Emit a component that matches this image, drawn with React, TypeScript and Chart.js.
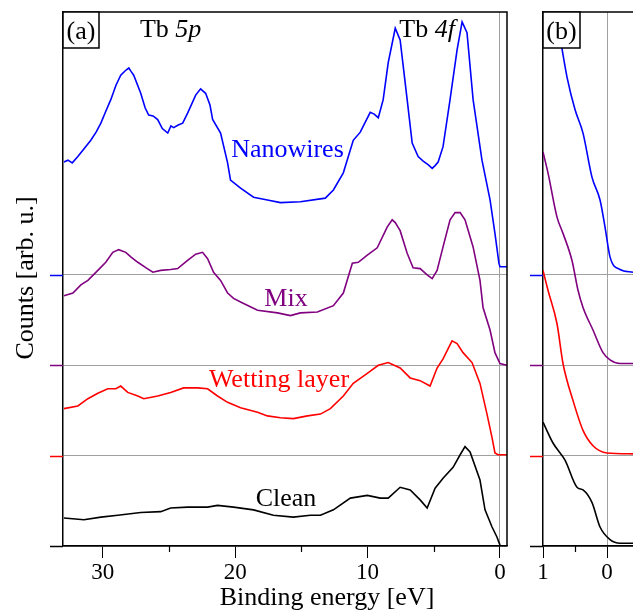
import React, { useEffect, useRef } from 'react';
import { Chart, registerables } from 'chart.js';

Chart.register(...registerables);

const FONT = '"Liberation Serif", "Times New Roman", Times, serif';
const GRID = '#a0a0a0';

// ---- series meta ----
const seriesNames = ['Nanowires', 'Mix', 'Wetting layer', 'Clean'];
const seriesColors = ['#0000ff', '#800080', '#ff0000', '#000000'];
const seriesOffsets = [300, 200, 100, 0];

// ---- panel (a): binding energy [eV] and counts (above own baseline) ----
const nanowiresE = [32.93, 32.63, 32.3, 31.88, 31.5, 30.9, 30.5, 30.14, 29.8, 29.39, 29.0, 28.64, 28.3, 28.03, 27.85, 27.66, 27.13, 26.8, 26.53, 26.2, 25.85, 25.5, 25.09, 24.85, 24.64, 24.3, 23.96, 23.59, 22.98, 22.61, 22.23, 21.9, 21.7, 21.1, 20.57, 20.35, 19.59, 18.61, 17.56, 16.58, 15.07, 13.19, 12.58, 11.83, 11.08, 10.55, 9.8, 9.5, 9.19, 8.82, 8.44, 7.91, 7.54, 7.01, 6.63, 6.18, 5.8, 5.43, 5.12, 4.9, 4.67, 4.3, 3.77, 3.24, 2.86, 2.49, 2.03, 1.36, 0.75, 0.38, 0.08, 0, -0.53];
const nanowiresI = [125, 127, 124, 131, 138, 149, 158, 168, 180, 194, 210, 221, 226, 229, 225, 221, 201, 185, 177, 176, 172, 162, 157, 165, 163, 166, 168, 179, 199, 206, 201, 188, 172, 157, 124, 105, 96, 86, 83, 80, 81, 85, 94, 113, 149, 158, 180, 178, 174, 194, 235, 273, 260, 194, 146, 131, 126, 122, 118, 121, 125, 142, 194, 249, 280, 268, 194, 127, 83, 46, 13, 9, 9];

const mixE = [32.93, 32.25, 31.65, 31.12, 30.37, 29.77, 29.24, 28.79, 28.26, 27.88, 27.35, 26.75, 26.22, 25.62, 24.87, 24.34, 23.59, 22.98, 22.46, 22.08, 21.63, 21.1, 20.57, 20.12, 19.59, 18.31, 16.8, 15.83, 15.07, 13.79, 12.58, 11.83, 11.15, 10.7, 10.02, 9.27, 8.52, 8.14, 7.91, 7.54, 7.01, 6.56, 6.03, 5.5, 5.12, 4.75, 4.3, 3.77, 3.39, 3.01, 2.64, 2.03, 1.51, 1.28, 0.75, 0.38, 0, -0.53];
const mixI = [77, 80, 89, 94, 105, 114, 125, 128, 125, 120, 114, 108, 103, 105, 106, 107, 116, 123, 125, 118, 103, 94, 80, 74, 70, 61, 58, 55, 58, 59, 66, 80, 113, 114, 122, 130, 153, 161, 158, 149, 124, 108, 107, 100, 96, 105, 131, 161, 169, 169, 161, 131, 94, 64, 39, 14, 2, 0];

const wettingE = [32.93, 31.88, 31.12, 30.37, 29.62, 29.01, 28.64, 28.11, 27.35, 26.9, 25.85, 24.87, 23.89, 22.83, 22.08, 21.33, 20.57, 19.59, 18.31, 17.56, 16.58, 15.6, 14.54, 13.56, 12.81, 11.83, 11.08, 10.02, 9.19, 8.44, 7.54, 6.78, 6.03, 5.28, 4.75, 4.3, 3.62, 3.24, 2.79, 2.11, 1.51, 0.98, 0.6, 0.38, 0.15, -0.53];
const wettingI = [52, 55, 63, 69, 74, 74, 77, 70, 66, 63, 66, 70, 75, 75, 74, 66, 59, 53, 48, 44, 42, 41, 44, 46, 52, 66, 80, 91, 100, 103, 97, 86, 83, 77, 97, 107, 127, 124, 114, 103, 80, 46, 20, 3, 1, 1];

const cleanE = [32.93, 31.42, 30.14, 28.86, 27.13, 25.62, 24.87, 23.59, 22.08, 21.33, 20.12, 18.61, 17.11, 15.6, 14.32, 13.56, 12.58, 11.3, 10.02, 9.04, 8.44, 7.54, 6.78, 6.03, 5.5, 4.9, 4.3, 3.54, 3.01, 2.64, 2.26, 1.51, 1.13, 0.6, 0.23, 0];
const cleanI = [31, 29, 32, 34, 37, 38, 42, 43, 43, 45, 43, 40, 34, 32, 34, 34, 40, 53, 56, 53, 53, 65, 62, 51, 42, 64, 75, 87, 101, 110, 104, 73, 40, 21, 10, 1];

// ---- panel (b): near Fermi level, magnified ----
const nanowiresZoomE = [0.82, 0.7, 0.625, 0.5, 0.375, 0.234, 0.109, 0.031, -0.047, -0.203, -0.406];
const nanowiresZoomI = [300, 249, 219, 183, 157, 108, 83, 53, 20, 6, 3];
const mixZoomE = [1.0, 0.922, 0.781, 0.6875, 0.547, 0.453, 0.375, 0.219, 0.0625, -0.047, -0.203, -0.406];
const mixZoomI = [236, 213, 164, 146, 116, 83, 64, 39, 14, 6, 2, 2];
const wettingZoomE = [1.0, 0.922, 0.781, 0.6875, 0.531, 0.375, 0.219, 0, -0.406];
const wettingZoomI = [205, 183, 146, 102, 61, 28, 11, 3, 2];
const cleanZoomE = [1.0, 0.844, 0.656, 0.469, 0.375, 0.234, 0.109, -0.047, -0.203, -0.406];
const cleanZoomI = [137, 114, 95, 65, 62, 48, 21, 7, 3, 3];

// ---- axes ----
const xRangeA = [-0.53, 33];
const xRangeB = [-0.406, 1];
const yRange = [0, 591];
const xMajorA = [0, 10, 20, 30];
const xMinorA = [5, 15, 25];
const xMajorB = [0, 1];
const xMinorB = [0.5];
const yTicks = [0, 100, 200, 300];
const yTickColors = ['#000000', '#ff0000', '#800080', '#0000ff'];

// ---- annotations (data coords) ----
const curveLabelE = [16.05, 16.16, 16.69, 16.16];
const curveLabelY = [430, 266, 176, 44];
const peakLabels: [string, string][] = [['Tb ', '5p'], ['Tb ', '4f']];
const peakLabelE = [24.87, 5.5];
const peakLabelY = 563;

const panelA = [[nanowiresE, nanowiresI], [mixE, mixI], [wettingE, wettingI], [cleanE, cleanI]];
const panelB = [[nanowiresZoomE, nanowiresZoomI], [mixZoomE, mixZoomI], [wettingZoomE, wettingZoomI], [cleanZoomE, cleanZoomI]];

function buildDatasets(panel: number[][][], smooth: boolean) {
  return panel.map(([es, is], k) => ({
    label: seriesNames[k],
    data: es.map((e, i) => ({ x: e, y: is[i] + seriesOffsets[k] })),
    borderColor: seriesColors[k],
    backgroundColor: seriesColors[k],
    borderWidth: 1.6,
    pointRadius: 0,
    fill: false,
    tension: smooth ? 0.4 : 0,
    cubicInterpolationMode: smooth ? 'monotone' : 'default',
  }));
}

function drawMixed(ctx: CanvasRenderingContext2D, parts: [string, boolean][], cx: number, by: number, size: number) {
  const widths: number[] = [];
  let total = 0;
  parts.forEach(([t, it]) => {
    ctx.font = `${it ? 'italic ' : ''}${size}px ${FONT}`;
    const w = ctx.measureText(t).width;
    widths.push(w);
    total += w;
  });
  let x = cx - total / 2;
  ctx.textAlign = 'left';
  ctx.textBaseline = 'alphabetic';
  parts.forEach(([t, it], i) => {
    ctx.font = `${it ? 'italic ' : ''}${size}px ${FONT}`;
    ctx.fillText(t, x, by);
    x += widths[i];
  });
}

function drawMinorTicks(chart: any, values: number[]) {
  const ctx = chart.ctx;
  const xs = chart.scales.x;
  const bottom = chart.chartArea.bottom;
  ctx.save();
  ctx.strokeStyle = '#000';
  ctx.lineWidth = 1.2;
  values.forEach((v) => {
    const px = Math.round(xs.getPixelForValue(v)) + 0.5;
    ctx.beginPath();
    ctx.moveTo(px, bottom);
    ctx.lineTo(px, bottom + 6);
    ctx.stroke();
  });
  ctx.restore();
}

function drawYTicks(chart: any) {
  const ctx = chart.ctx as CanvasRenderingContext2D;
  const ys = chart.scales.y;
  const left = chart.chartArea.left;
  ctx.save();
  ctx.lineWidth = 1.5;
  yTicks.forEach((v, i) => {
    const py = Math.round(ys.getPixelForValue(v)) + 0.5;
    ctx.strokeStyle = yTickColors[i];
    ctx.beginPath();
    ctx.moveTo(left - 13, py);
    ctx.lineTo(left, py);
    ctx.stroke();
  });
  ctx.restore();
}

function drawBox(ctx: CanvasRenderingContext2D, left: number, top: number, w: number, text: string) {
  ctx.save();
  ctx.fillStyle = '#fff';
  ctx.fillRect(left, top, w, 36);
  ctx.strokeStyle = '#000';
  ctx.lineWidth = 1.5;
  ctx.strokeRect(left, top, w, 36);
  ctx.fillStyle = '#000';
  ctx.font = `26px ${FONT}`;
  ctx.textAlign = 'center';
  ctx.textBaseline = 'alphabetic';
  ctx.fillText(text, left + w / 2, top + 27);
  ctx.restore();
}

const panelAPlugin = {
  id: 'panelADecor',
  afterDraw(chart: any) {
    const ctx = chart.ctx as CanvasRenderingContext2D;
    const { left, right, top, bottom } = chart.chartArea;
    const xs = chart.scales.x;
    const ys = chart.scales.y;
    ctx.save();
    ctx.strokeStyle = '#000';
    ctx.lineWidth = 1.5;
    ctx.beginPath();
    ctx.moveTo(left, top);
    ctx.lineTo(right, top);
    ctx.lineTo(right, bottom);
    ctx.stroke();
    ctx.restore();
    drawMinorTicks(chart, xMinorA);
    drawYTicks(chart);

    ctx.save();
    ctx.textAlign = 'center';
    ctx.textBaseline = 'alphabetic';
    seriesNames.forEach((name, k) => {
      ctx.fillStyle = seriesColors[k];
      ctx.font = `26px ${FONT}`;
      ctx.fillText(name, xs.getPixelForValue(curveLabelE[k]), ys.getPixelForValue(curveLabelY[k]));
    });
    ctx.fillStyle = '#000';
    peakLabels.forEach((p, i) => {
      drawMixed(ctx, [[p[0], false], [p[1], true]], xs.getPixelForValue(peakLabelE[i]), ys.getPixelForValue(peakLabelY), 26);
    });
    // axis titles
    ctx.fillStyle = '#000';
    ctx.font = `26px ${FONT}`;
    ctx.textAlign = 'center';
    ctx.textBaseline = 'alphabetic';
    ctx.fillText('Binding energy [eV]', 327, 605);
    ctx.translate(33, (top + bottom) / 2 - 1);
    ctx.rotate(-Math.PI / 2);
    ctx.fillText('Counts [arb. u.]', 0, 0);
    ctx.restore();

    drawBox(ctx, left, top, 36, '(a)');
  },
};

const panelBPlugin = {
  id: 'panelBDecor',
  afterDraw(chart: any) {
    const ctx = chart.ctx as CanvasRenderingContext2D;
    const { left, right, top } = chart.chartArea;
    ctx.save();
    ctx.strokeStyle = '#000';
    ctx.lineWidth = 1.5;
    ctx.beginPath();
    ctx.moveTo(left, top);
    ctx.lineTo(right + 2, top);
    ctx.stroke();
    ctx.restore();
    drawMinorTicks(chart, xMinorB);
    drawYTicks(chart);
    drawBox(ctx, left, top, 37, '(b)');
  },
};

function makeOptions(xRange: number[], xMajor: number[], yWidth: number, padding: any) {
  return {
    responsive: false,
    animation: false as const,
    devicePixelRatio: 1,
    layout: { padding },
    plugins: { legend: { display: false }, tooltip: { enabled: false }, title: { display: false } },
    scales: {
      x: {
        type: 'linear' as const,
        min: xRange[0],
        max: xRange[1],
        reverse: true,
        afterBuildTicks: (axis: any) => {
          axis.ticks = xMajor.map((v) => ({ value: v }));
        },
        afterFit: (axis: any) => {
          axis.height = 65;
        },
        grid: {
          color: (c: any) => (c.tick && c.tick.value === 0 ? GRID : 'rgba(0,0,0,0)'),
          tickColor: '#000',
          tickLength: 12,
          lineWidth: 1,
          drawTicks: true,
        },
        border: { color: '#000', width: 1.5 },
        ticks: {
          color: '#000',
          font: { family: FONT, size: 23 },
          padding: 1,
          maxRotation: 0,
          autoSkip: false,
          callback: (v: any) => String(v),
        },
      },
      y: {
        type: 'linear' as const,
        min: yRange[0],
        max: yRange[1],
        afterBuildTicks: (axis: any) => {
          axis.ticks = yTicks.map((v) => ({ value: v }));
        },
        afterFit: (axis: any) => {
          axis.width = yWidth;
        },
        grid: {
          color: (c: any) => (c.tick && c.tick.value === 0 ? '#000' : GRID),
          tickColor: 'rgba(0,0,0,0)',
          tickLength: 13,
          lineWidth: (c: any) => (c.tick && c.tick.value === 0 ? 1.5 : 1),
          drawTicks: true,
        },
        border: { color: '#000', width: 1.5 },
        ticks: { display: false },
      },
    },
  };
}

function Panel({ width, height, left, panel, smooth, xRange, xMajor, yWidth, padding, plugin }: any) {
  const ref = useRef<HTMLCanvasElement | null>(null);
  useEffect(() => {
    if (!ref.current) return;
    const chart = new Chart(ref.current, {
      type: 'line',
      data: { datasets: buildDatasets(panel, smooth) as any },
      options: makeOptions(xRange, xMajor, yWidth, padding) as any,
      plugins: [plugin],
    });
    return () => chart.destroy();
  }, []);
  return (
    <canvas
      ref={ref}
      width={width}
      height={height}
      style={{ position: 'absolute', left, top: 0, width, height }}
    />
  );
}

export default function App() {
  return (
    <div style={{ position: 'absolute', left: 0, top: 0, width: 633, height: 611, background: '#fff', overflow: 'hidden' }}>
      <Panel
        width={520}
        height={611}
        left={0}
        panel={panelA}
        smooth={false}
        xRange={xRangeA}
        xMajor={xMajorA}
        yWidth={63}
        padding={{ top: 12, right: 13, left: 0, bottom: 0 }}
        plugin={panelAPlugin}
      />
      <Panel
        width={113}
        height={611}
        left={520}
        panel={panelB}
        smooth={true}
        xRange={xRangeB}
        xMajor={xMajorB}
        yWidth={23}
        padding={{ top: 12, right: 0, left: 0, bottom: 0 }}
        plugin={panelBPlugin}
      />
    </div>
  );
}
